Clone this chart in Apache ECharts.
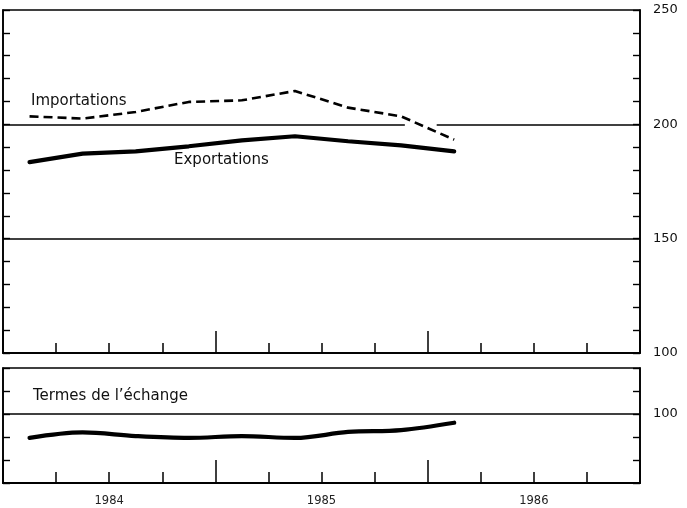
<!DOCTYPE html>
<html>
<head>
<meta charset="utf-8">
<script src="https://cdn.jsdelivr.net/npm/echarts@6/dist/echarts.min.js"></script>
<style>html,body{margin:0;padding:0;background:#fff}#c{width:687px;height:508px}</style>
</head>
<body>
<div id="c"></div>
<script>
// Quarters 1984T1 .. 1986T1 (plotted at quarter mid-points)
var quarters = ['1984T1','1984T2','1984T3','1984T4','1985T1','1985T2','1985T3','1985T4','1986T1'];
var importations = [203.5, 202.5, 205.4, 209.8, 210.5, 214.6, 207.3, 203.5, 193.3];
var exportations = [183.5, 187.2, 188.2, 190.4, 193.0, 194.8, 192.6, 190.8, 188.2];
var termes = [89.6, 92.0, 90.4, 89.6, 90.4, 89.6, 92.2, 93.0, 96.2];
var years = ['1984', '1985', '1986'];
var topTickLabels = [250, 200, 150, 100];
var bottomTickLabels = [100];

function pts(arr){ return arr.map(function(v,i){ return [i + 0.5, v]; }); }

var FONT = 'DejaVu Sans';
var chart = echarts.init(document.getElementById('c'), null, {renderer:'canvas'});

function yAx(grid, pos, min, max, labels, show){
  return {
    type:'value', gridIndex:grid, position:pos, min:min, max:max, interval:10,
    axisLine:{show:true, onZero:false, lineStyle:{color:'#000', width:1.6}},
    axisTick:{show:true, inside:true, length:7, lineStyle:{color:'#000', width:1.4}},
    axisLabel:{show:show, margin:13, color:'#111', fontFamily:FONT, fontSize:13,
      formatter:function(v){ return labels.indexOf(v) >= 0 ? String(v) : ''; }},
    splitLine:{show:false}
  };
}
function xAx(grid, interval, len, labelShow){
  return {
    type:'value', gridIndex:grid, position:'bottom', min:0, max:12, interval:interval,
    axisLine:{show:true, onZero:false, lineStyle:{color:'#000', width:1.6}},
    axisTick:{show:len > 0, inside:true, length:len, lineStyle:{color:'#000', width:1.5}},
    axisLabel:{show:labelShow, margin:12, color:'#222', fontFamily:FONT, fontSize:11.5,
      formatter:function(v){ var k=(v-2)/4; return (k>=0 && k===Math.round(k) && years[k]) ? years[k] : ''; }},
    splitLine:{show:false}
  };
}

var option = {
  animation:false,
  backgroundColor:'#fff',
  grid:[
    {left:3, right:47, top:10, height:343, show:true, borderColor:'#000', borderWidth:1.6, backgroundColor:'transparent'},
    {left:3, right:47, top:368, height:115, show:true, borderColor:'#000', borderWidth:1.6, backgroundColor:'transparent'}
  ],
  xAxis:[
    xAx(0, 1, 10, false),
    xAx(0, 4, 22, false),
    xAx(1, 1, 11, false),
    xAx(1, 4, 23, false),
    xAx(1, 2, 0, true)
  ],
  yAxis:[
    yAx(0, 'left', 100, 250, topTickLabels, false),
    yAx(0, 'right', 100, 250, topTickLabels, true),
    yAx(1, 'left', 70, 120, bottomTickLabels, false),
    yAx(1, 'right', 70, 120, bottomTickLabels, true)
  ],
  series:[
    {
      type:'line', xAxisIndex:0, yAxisIndex:1, data:[], silent:true,
      markLine:{silent:true, symbol:'none', label:{show:false},
        lineStyle:{color:'#000', width:1.6, type:'solid'},
        data:[
          [{coord:[0,200]},{coord:[7.57,200]}],
          [{coord:[8.17,200]},{coord:[12,200]}],
          [{coord:[0,150]},{coord:[12,150]}]
        ]}
    },
    {
      name:'Importations', type:'line', xAxisIndex:0, yAxisIndex:1, data:pts(importations),
      showSymbol:false, lineStyle:{color:'#000', width:2.6, type:[9,5], cap:'butt'}
    },
    {
      name:'Exportations', type:'line', xAxisIndex:0, yAxisIndex:1, data:pts(exportations),
      showSymbol:false, lineStyle:{color:'#000', width:4.2, cap:'round'}
    },
    {
      type:'line', xAxisIndex:2, yAxisIndex:3, data:[], silent:true,
      markLine:{silent:true, symbol:'none', label:{show:false},
        lineStyle:{color:'#000', width:1.6, type:'solid'},
        data:[[{coord:[0,100]},{coord:[12,100]}]]}
    },
    {
      name:'Termes de l’échange', type:'line', xAxisIndex:2, yAxisIndex:3, data:pts(termes),
      smooth:0.35, showSymbol:false, lineStyle:{color:'#000', width:4.2, cap:'round'}
    }
  ],
  graphic:[
    {type:'text', left:31, top:94, style:{text:'Importations', font:'15px "DejaVu Sans"', fill:'#111'}},
    {type:'text', left:174, top:153, style:{text:'Exportations', font:'15px "DejaVu Sans"', fill:'#111'}},
    {type:'text', left:33, top:389, style:{text:'Termes de l’échange', font:'15px "DejaVu Sans"', fill:'#111'}}
  ]
};
chart.setOption(option);
</script>
</body>
</html>
